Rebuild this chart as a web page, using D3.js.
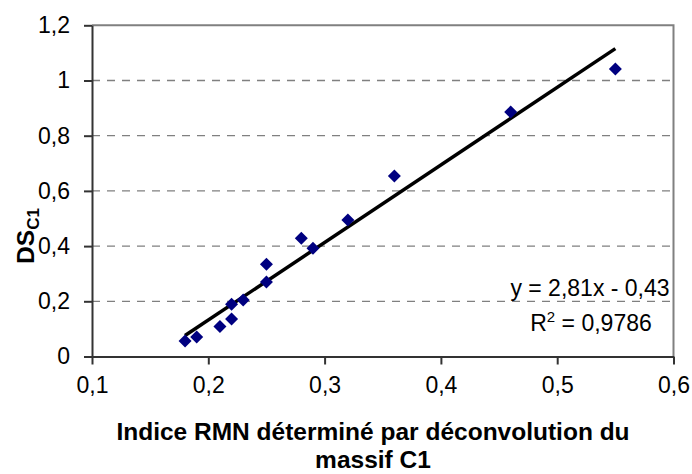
<!DOCTYPE html>
<html><head><meta charset="utf-8">
<script src="https://cdn.jsdelivr.net/npm/d3@7"></script>
<style>body{margin:0;background:#fff}svg{display:block}text{font-family:Arial,"Liberation Sans",sans-serif}</style>
</head><body>
<svg id="c" width="692" height="474"></svg>
<script>
const xVals = [0.18,0.19,0.21,0.22,0.22,0.23,0.25,0.25,0.28,0.29,0.32,0.36,0.46,0.55];
const yVals = [0.056,0.071,0.109,0.136,0.189,0.205,0.27,0.334,0.428,0.392,0.495,0.654,0.886,1.042];
const xTicks = [0.1,0.2,0.3,0.4,0.5,0.6];
const yTicks = [0,0.2,0.4,0.6,0.8,1,1.2];
const slope = 2.81, intercept = -0.43;
const trendX = [0.18, 0.55];
const eqLabel = "y = 2,81x - 0,43";
const r2Label = "= 0,9786";
const xTitleLines = ["Indice RMN déterminé par déconvolution du", "massif C1"];

const svg = d3.select("#c");
const L=92, R=673.5, T=25.3, B=356.5;
const x = d3.scaleLinear().domain([0.1,0.6]).range([L,R]);
const y = d3.scaleLinear().domain([0,1.2]).range([B,T]);
const fmt = d => String(d).replace(".", ",");

// gridlines
svg.append("g").selectAll("line").data(yTicks.filter(d=>d>0 && d<1.2)).join("line")
  .attr("x1",L).attr("x2",R).attr("y1",d=>y(d)).attr("y2",d=>y(d))
  .attr("stroke","#808080").attr("stroke-width",1.3).attr("stroke-dasharray","8,7");
// top/right border
svg.append("path").attr("d",`M${L},${T}H${R}V${B}`).attr("fill","none").attr("stroke","#808080").attr("stroke-width",2);

// axes
const xa = svg.append("g").attr("transform",`translate(0,${B})`)
  .call(d3.axisBottom(x).tickValues(xTicks).tickFormat(fmt).tickSizeInner(8).tickSizeOuter(0).tickPadding(12));
const ya = svg.append("g").attr("transform",`translate(${L},0)`)
  .call(d3.axisLeft(y).tickValues(yTicks).tickFormat(fmt).tickSizeInner(8).tickSizeOuter(0).tickPadding(14));
[xa,ya].forEach(a=>{
  a.select(".domain").attr("stroke","#333").attr("stroke-width",2);
  a.selectAll(".tick line").attr("stroke","#333").attr("stroke-width",2);
  a.selectAll("text").attr("font-size",23).attr("fill","#000").attr("font-family","Arial, 'Liberation Sans', sans-serif");
});

// trend line
svg.append("line")
  .attr("x1",x(trendX[0])).attr("y1",y(slope*trendX[0]+intercept))
  .attr("x2",x(trendX[1])).attr("y2",y(slope*trendX[1]+intercept))
  .attr("stroke","#000").attr("stroke-width",3.5);

// points
svg.append("g").selectAll("path").data(xVals.map((v,i)=>[v,yVals[i]])).join("path")
  .attr("transform",d=>`translate(${x(d[0])},${y(d[1])})`)
  .attr("d","M0,-6.5L6.5,0L0,6.5L-6.5,0Z").attr("fill","#000080");

// equation
svg.append("text").attr("x",590).attr("y",296).attr("text-anchor","middle").attr("font-size",23).text(eqLabel);
const r2 = svg.append("text").attr("x",591).attr("y",331).attr("text-anchor","middle").attr("font-size",23);
r2.append("tspan").text("R");
r2.append("tspan").attr("font-size",15).attr("dy",-9).text("2");
r2.append("tspan").attr("dy",9).text(" " + r2Label);

// x title
svg.append("g").selectAll("text").data(xTitleLines).join("text")
  .attr("x",373).attr("y",(d,i)=>440+i*28).attr("text-anchor","middle")
  .attr("font-size",24.5).attr("font-weight","bold").text(d=>d);

// y title
const yt = svg.append("text").attr("transform","translate(34,236) rotate(-90)").attr("text-anchor","middle")
  .attr("font-size",24.5).attr("font-weight","bold");
yt.append("tspan").text("DS");
yt.append("tspan").attr("font-size",17).attr("dy",5).text("C1");
</script>
</body></html>
